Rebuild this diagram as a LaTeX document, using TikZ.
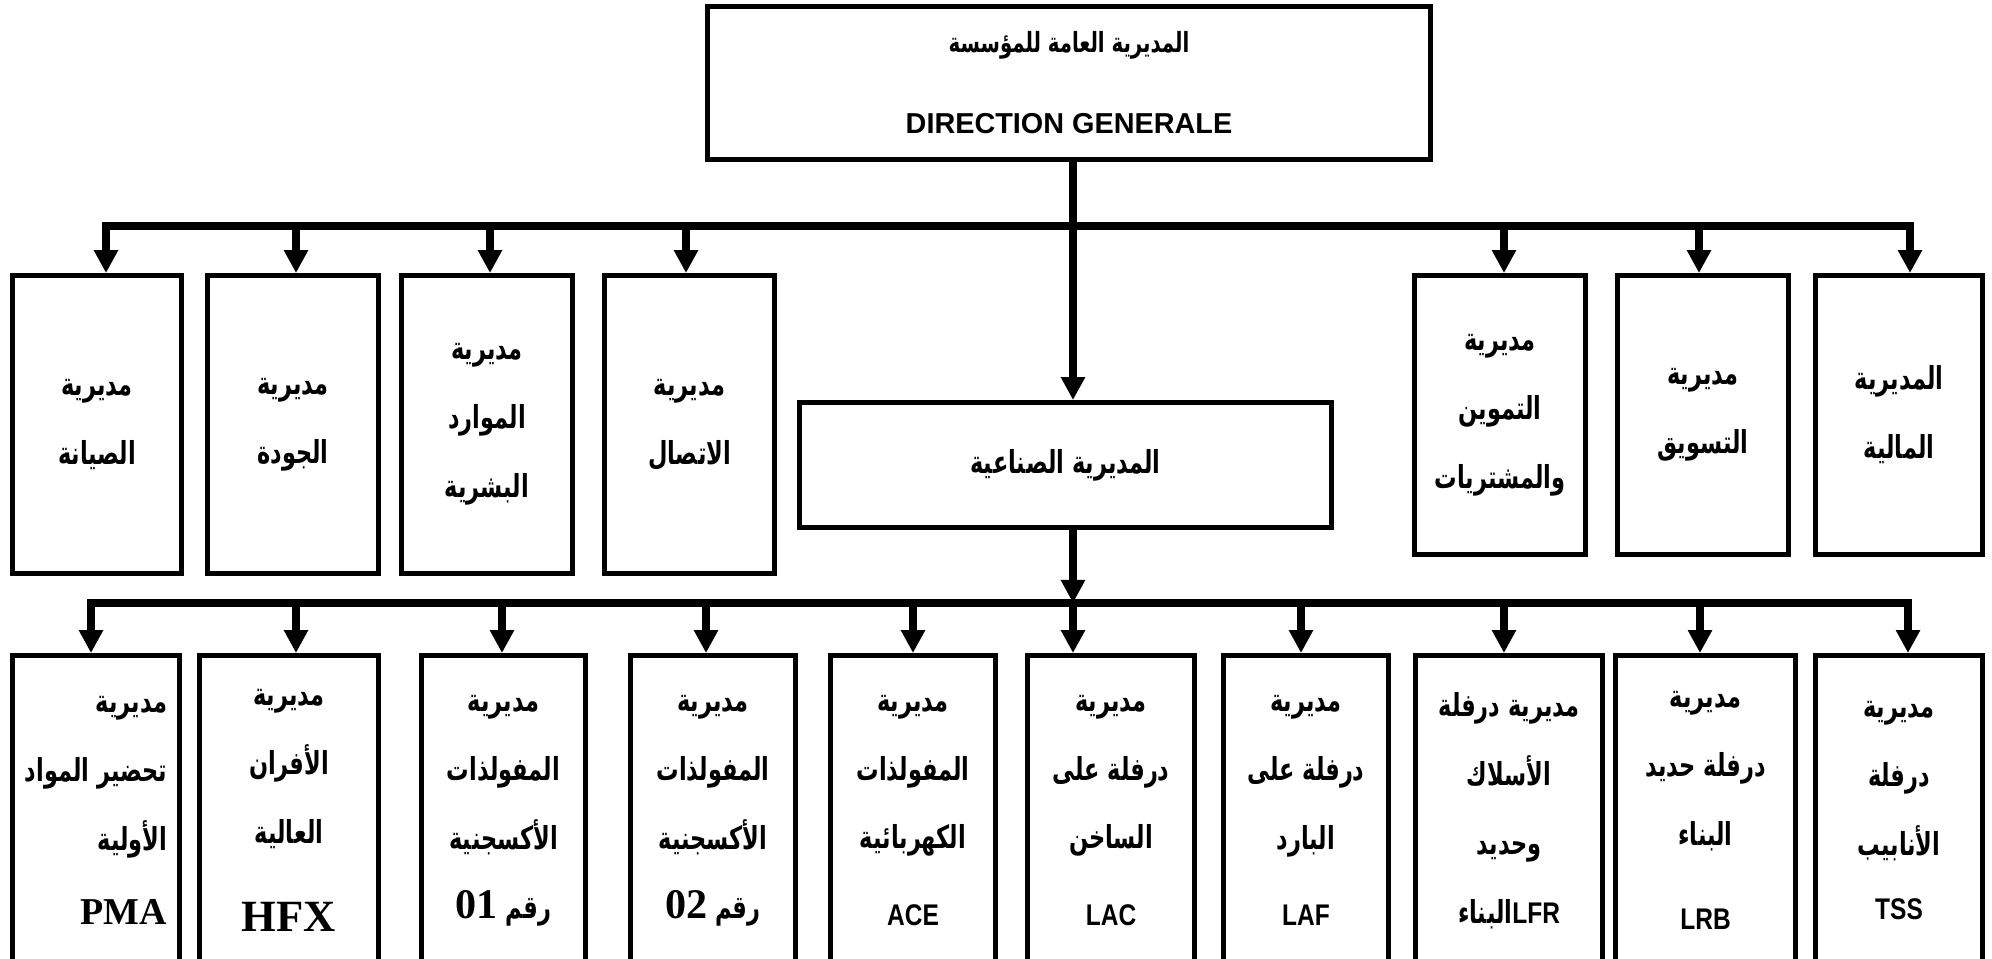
\documentclass[tikz,border=0pt]{standalone}
\usepackage{fontspec}
\setmainfont{Liberation Serif}
\setsansfont{Liberation Sans}
\newfontfamily\arabicfont[Script=Arabic,FakeStretch=0.71]{DejaVu Sans}
\newfontfamily\narrowsans[FakeStretch=0.82]{Liberation Sans}
\TeXXeTstate=1
\usepackage{tikz}
\usetikzlibrary{arrows.meta}

\newcommand{\artxt}[1]{{\arabicfont\bfseries\beginR #1\endR}}
\newcommand{\codetxt}[1]{{\narrowsans\bfseries\fontsize{8.5}{10}\selectfont #1}}
\newcommand{\serifcode}[2]{{\rmfamily\bfseries\fontsize{#1}{#1}\selectfont #2}}

\tikzset{
  unitbox/.style={draw,line width=1.4pt,align=center,inner sep=0pt,
    font=\fontsize{9}{19.6}\selectfont},
  midbox/.style={unitbox,minimum height=2.98cm},
  sidebox/.style={unitbox,minimum height=2.79cm},
  lowbox/.style={unitbox,minimum height=3.10cm},
  link/.style={line width=2.2pt}
}

\begin{document}
\begin{tikzpicture}[>={Triangle[length=2.3mm,width=2.3mm]}]
  \useasboundingbox (0,0) rectangle (19.92,9.58);

  % top of the chart
  \node[unitbox,minimum width=7.23cm,minimum height=1.53cm,font=\fontsize{7.9}{19.6}\selectfont] (dg) at (10.69,8.75)
    {\artxt{المديرية العامة للمؤسسة}\\[0.12cm]
     {\sffamily\bfseries\fontsize{8.2}{10}\selectfont DIRECTION GENERALE}};
  \node[unitbox,minimum width=5.32cm,minimum height=1.25cm] (ind) at (10.655,4.93)
    {\artxt{المديرية الصناعية}};

  % central directorates
  \node[midbox,minimum width=1.69cm] (m1) at (0.97,5.335) {\artxt{مديرية}\\\artxt{الصيانة}};
  \node[midbox,minimum width=1.71cm] (m2) at (2.93,5.335) {\artxt{مديرية}\\\artxt{الجودة}};
  \node[midbox,minimum width=1.71cm] (m3) at (4.87,5.335) {\artxt{مديرية}\\\artxt{الموارد}\\\artxt{البشرية}};
  \node[midbox,minimum width=1.70cm] (m4) at (6.895,5.335) {\artxt{مديرية}\\\artxt{الاتصال}};
  \node[sidebox,minimum width=1.71cm] (m5) at (15.00,5.43) {\artxt{مديرية}\\\artxt{التموين}\\\artxt{والمشتريات}};
  \node[sidebox,minimum width=1.71cm] (m6) at (17.03,5.43) {\artxt{مديرية}\\\artxt{التسويق}};
  \node[sidebox,minimum width=1.67cm] (m7) at (18.99,5.43) {\artxt{المديرية}\\\artxt{المالية}};

  % production units
  \node[lowbox,minimum width=1.67cm,align=right] (b1) at (0.96,1.475)
    {\artxt{مديرية}\\\artxt{تحضير المواد}\\\artxt{الأولية}\\[0.05cm]\serifcode{10.8}{PMA}};
  \node[lowbox,minimum width=1.79cm] (b2) at (2.89,1.475)
    {\artxt{مديرية}\\\artxt{الأفران}\\\artxt{العالية}\\[0.2cm]\serifcode{12.7}{HFX}};
  \node[lowbox,minimum width=1.64cm] (b3) at (5.035,1.475)
    {\artxt{مديرية}\\\artxt{المفولذات}\\\artxt{الأكسجنية}\\\artxt{رقم \beginL\serifcode{12}{01}\endL}};
  \node[lowbox,minimum width=1.65cm] (b4) at (7.13,1.475)
    {\artxt{مديرية}\\\artxt{المفولذات}\\\artxt{الأكسجنية}\\\artxt{رقم \beginL\serifcode{12}{02}\endL}};
  \node[lowbox,minimum width=1.65cm] (b5) at (9.13,1.475)
    {\artxt{مديرية}\\\artxt{المفولذات}\\\artxt{الكهربائية}\\[0.08cm]\codetxt{ACE}};
  \node[lowbox,minimum width=1.67cm] (b6) at (11.11,1.475)
    {\artxt{مديرية}\\\artxt{درفلة على}\\\artxt{الساخن}\\[0.08cm]\codetxt{LAC}};
  \node[lowbox,minimum width=1.65cm] (b7) at (13.06,1.475)
    {\artxt{مديرية}\\\artxt{درفلة على}\\\artxt{البارد}\\[0.08cm]\codetxt{LAF}};
  \node[lowbox,minimum width=1.87cm] (b8) at (15.09,1.475)
    {\artxt{مديرية درفلة}\\\artxt{الأسلاك}\\\artxt{وحديد}\\\artxt{\beginL\codetxt{LFR}\endL البناء}};
  \node[lowbox,minimum width=1.80cm] (b9) at (17.055,1.475)
    {\artxt{مديرية}\\\artxt{درفلة حديد}\\\artxt{البناء}\\[0.15cm]\codetxt{LRB}};
  \node[lowbox,minimum width=1.67cm] (b10) at (18.99,1.475)
    {\artxt{مديرية}\\\artxt{درفلة}\\\artxt{الأنابيب}\\[-0.05cm]\codetxt{TSS}};

  % upper distribution line
  \coordinate (trunk) at (10.73,7.32);
  \draw[link,->] (trunk |- dg.south) -- (trunk |- ind.north);
  \coordinate (u1) at (1.06,7.32);
  \coordinate (u7) at (19.10,7.32);
  \draw[link,<->] (u1 |- m1.north) -- (u1) -- (u7) -- (u7 |- m7.north);
  \foreach \i/\x in {2/2.96,3/4.90,4/6.86,5/15.04,6/16.99} {
    \coordinate (u\i) at (\x,7.32);
    \draw[link,->] (u\i) -- (u\i |- m\i.north);
  }

  % lower distribution line
  \coordinate (l6) at (10.73,3.55);
  \draw[link,->] (l6 |- ind.south) -- (l6);
  \coordinate (l1) at (0.91,3.55);
  \coordinate (l10) at (19.08,3.55);
  \draw[link,<->] (l1 |- b1.north) -- (l1) -- (l10) -- (l10 |- b10.north);
  \foreach \i/\x in {2/2.96,3/5.02,4/7.06,5/9.13,6/10.73,7/13.01,8/15.04,9/17.00} {
    \coordinate (l\i) at (\x,3.55);
    \draw[link,->] (l\i) -- (l\i |- b\i.north);
  }
\end{tikzpicture}
\end{document}
